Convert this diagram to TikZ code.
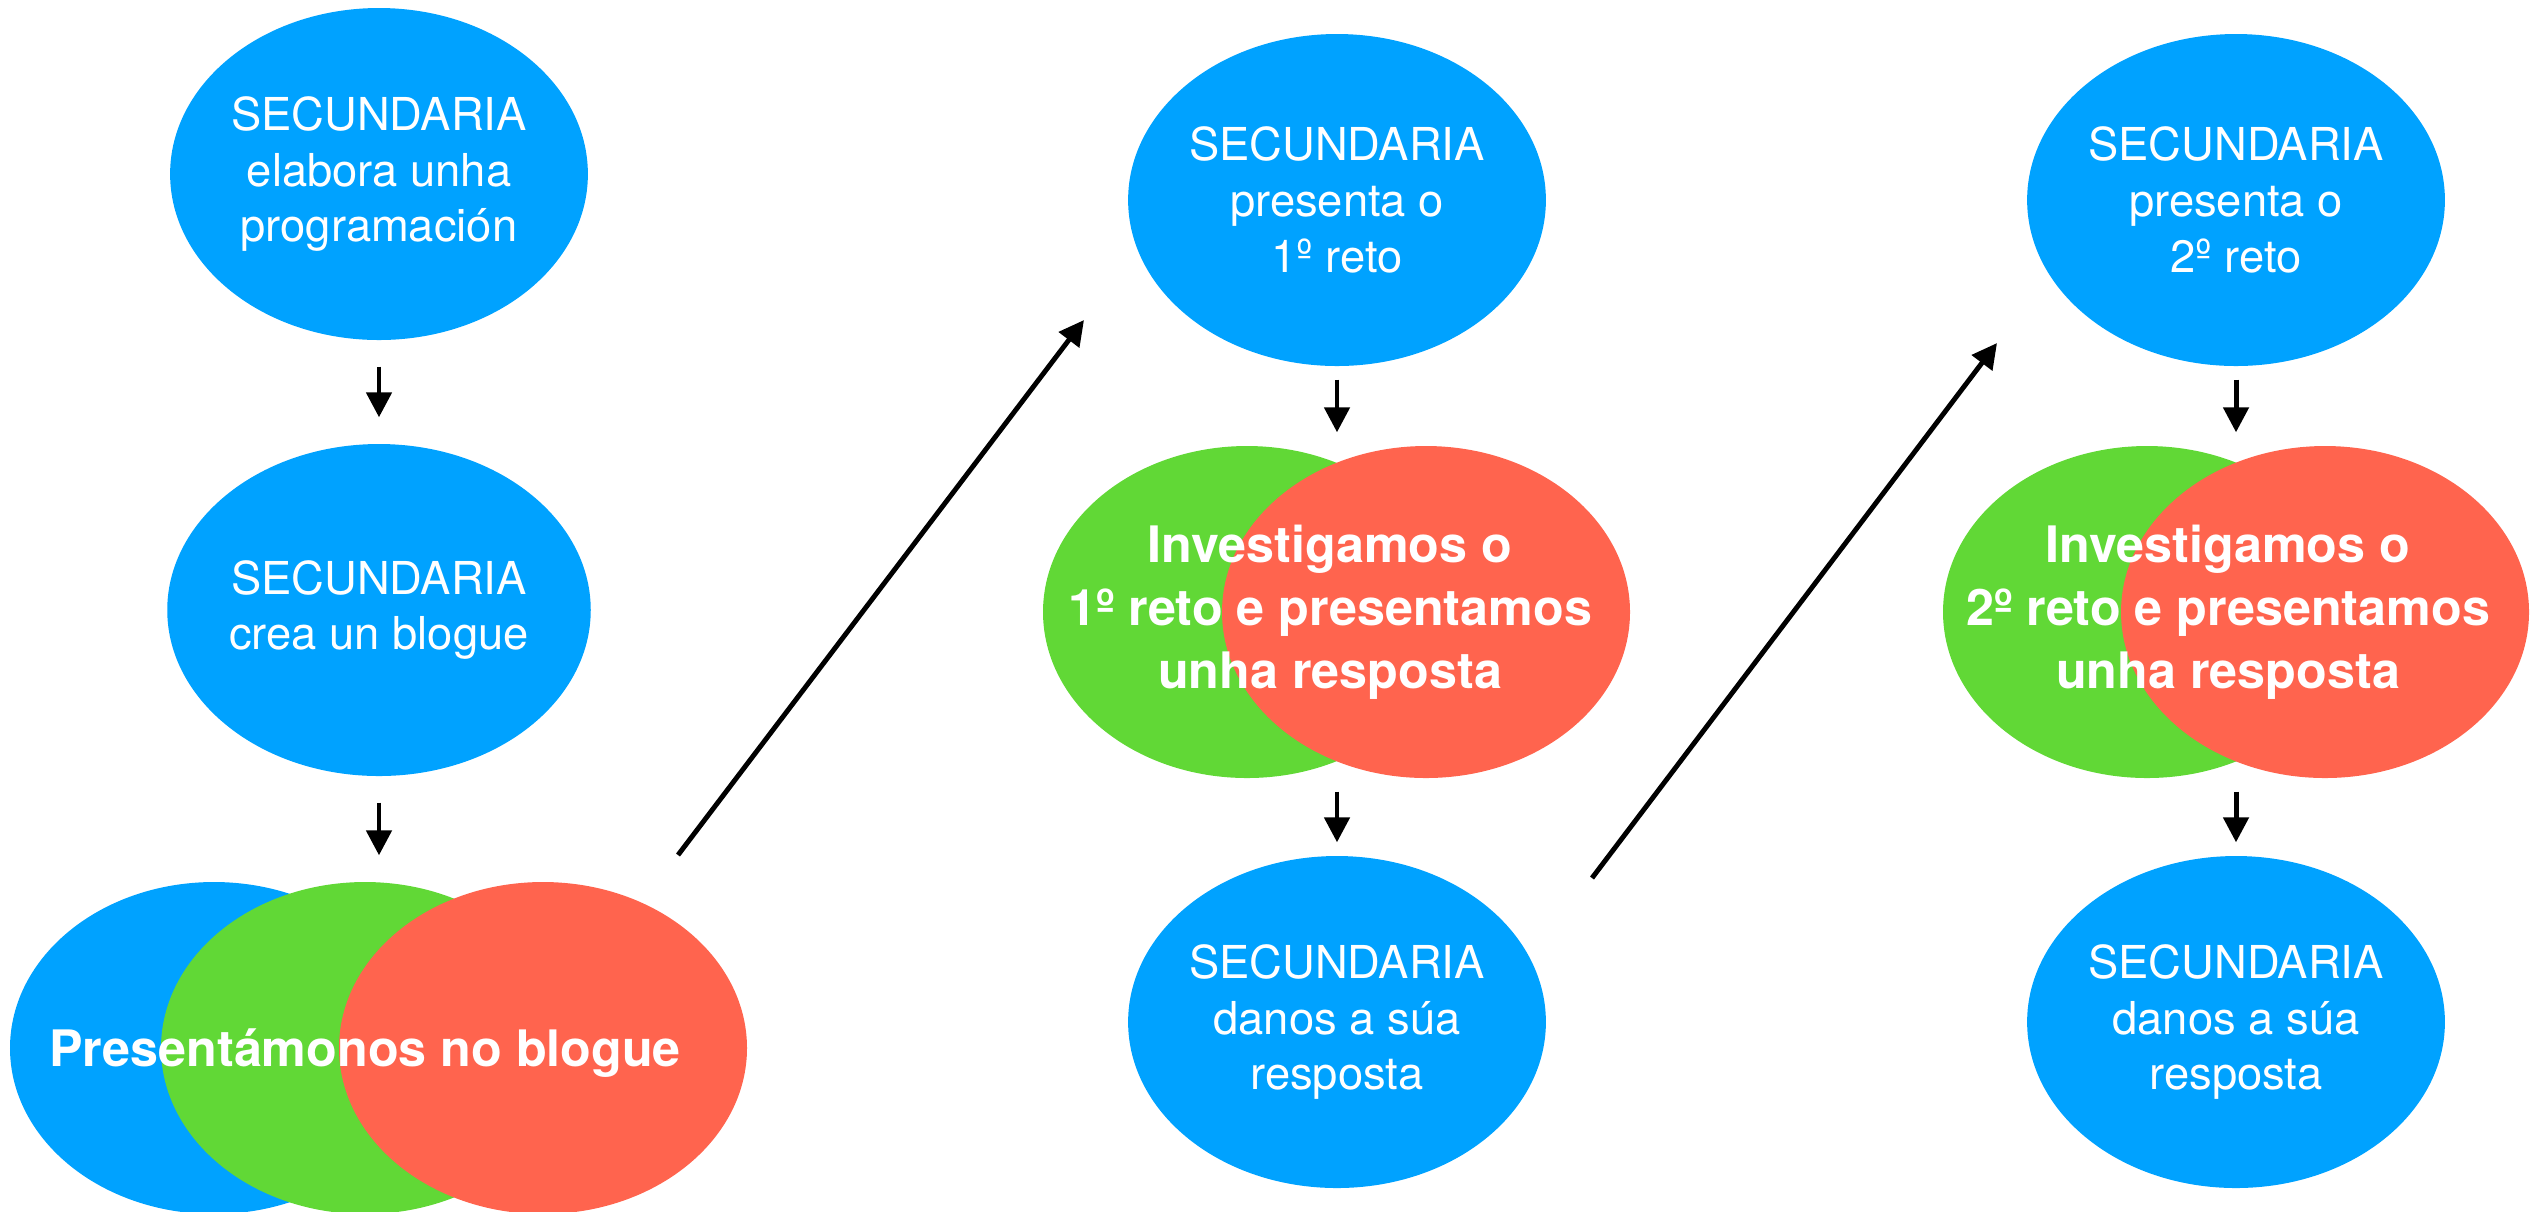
\documentclass[tikz,border=0pt]{standalone}
\usepackage{fontspec}
\setmainfont{TeX Gyre Heros}
\usetikzlibrary{arrows.meta,shapes.geometric}

\definecolor{kblue}{RGB}{0,162,255}
\definecolor{kgreen}{RGB}{97,216,54}
\definecolor{kred}{RGB}{255,100,78}

\begin{document}
\begin{tikzpicture}[
    bubble/.style={ellipse, minimum width=4.08cm, minimum height=3.32cm, inner sep=0pt},
    sec/.style={bubble, fill=kblue, text=white, align=center, font=\fontsize{12.9}{15.9}\selectfont,
        execute at begin node={\rule{0pt}{12.6pt}}},
    joint/.style={text=white, align=center, inner sep=0pt, minimum height=3.32cm, font=\fontsize{14.3}{17.9}\selectfont\bfseries,
        execute at begin node={\rule{0pt}{13.7pt}}},
    flow/.style={line width=1.4pt, -{Triangle[length=0.25cm, width=0.25cm]}}
]
\useasboundingbox (0,0) rectangle (25.44,-12.11);

% First column
\node[sec] (e1) at (3.79,-1.74) {SECUNDARIA\\elabora unha\\programación};
\node[sec] (e2) at (3.79,-6.10) {SECUNDARIA\\crea un blogue};
\node[bubble, fill=kblue] (m1a) at (2.14,-10.48) {};
\node[bubble, fill=kgreen] (m1b) at (3.65,-10.48) {};
\node[bubble, fill=kred] (m1c) at (5.43,-10.48) {};
\node[joint] (m1) at (3.65,-10.48) {Presentámonos no blogue};

% Second column
\node[sec] (t2) at (13.37,-2.00) {SECUNDARIA\\presenta o\\1º reto};
\node[bubble, fill=kgreen] (q2a) at (12.47,-6.12) {};
\node[bubble, fill=kred] (q2b) at (14.26,-6.12) {};
\node[joint] (q2) at (13.30,-6.12) {Investigamos o\\1º reto e presentamos\\unha resposta};
\node[sec] (b2) at (13.37,-10.22) {SECUNDARIA\\danos a súa\\resposta};

% Third column
\node[sec] (t3) at (22.36,-2.00) {SECUNDARIA\\presenta o\\2º reto};
\node[bubble, fill=kgreen] (q3a) at (21.47,-6.12) {};
\node[bubble, fill=kred] (q3b) at (23.25,-6.12) {};
\node[joint] (q3) at (22.28,-6.12) {Investigamos o\\2º reto e presentamos\\unha resposta};
\node[sec] (b3) at (22.36,-10.22) {SECUNDARIA\\danos a súa\\resposta};

% Down arrows
\draw[flow, shorten <=0.26cm, shorten >=0.26cm] (e1) -- (e2);
\draw[flow, shorten <=0.26cm, shorten >=0.26cm] (e2) -- (e2 |- m1.north);
\draw[flow, shorten <=0.13cm, shorten >=0.13cm] (t2) -- (t2 |- q2.north);
\draw[flow, shorten <=0.13cm, shorten >=0.13cm] (b2 |- q2.south) -- (b2);
\draw[flow, shorten <=0.13cm, shorten >=0.13cm] (t3) -- (t3 |- q3.north);
\draw[flow, shorten <=0.13cm, shorten >=0.13cm] (b3 |- q3.south) -- (b3);

% Diagonal arrows between columns
\coordinate (d1a) at (6.78,-8.55);
\coordinate (d1b) at (10.84,-3.20);
\coordinate (d2a) at (15.92,-8.78);
\coordinate (d2b) at (19.97,-3.43);
\draw[flow] (d1a) -- (d1b);
\draw[flow] (d2a) -- (d2b);

\end{tikzpicture}
\end{document}
